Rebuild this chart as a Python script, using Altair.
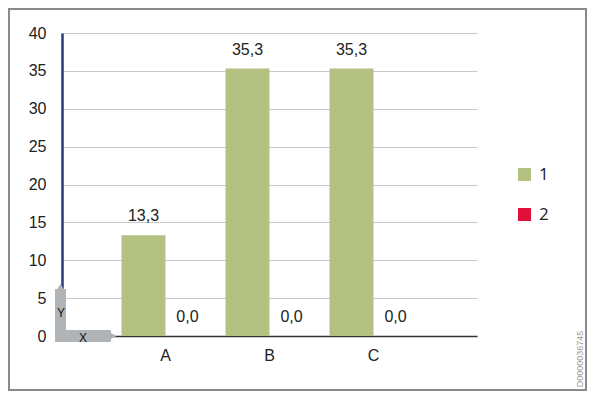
import altair as alt
import pandas as pd

categories = ["A", "B", "C"]
series_names = ["1", "2"]
series1 = [13.3, 35.3, 35.3]
series2 = [0.0, 0.0, 0.0]
y_ticks = [0, 5, 10, 15, 20, 25, 30, 35, 40]
watermark = "D0000036745"

rows = []
for c, v in zip(categories, series1):
    rows.append({"cat": c, "series": series_names[0], "v": v})
for c, v in zip(categories, series2):
    rows.append({"cat": c, "series": series_names[1], "v": v})
df = pd.DataFrame(rows)

W, H = 415, 303
PL, PT = 54, 25
TOTW, TOTH = 579, 383

xscale = alt.Scale(domain=categories, paddingInner=16 / 104, paddingOuter=0.572)
yscale = alt.Scale(domain=[0, 40], nice=False)
colors = alt.Scale(domain=series_names, range=["#b3c283", "#e0103a"])

xaxis = alt.Axis(title=None, labelAngle=0, labelFontSize=16, labelColor="#222",
                 labelPadding=11, ticks=False, domainColor="#333", domainWidth=1.5,
                 grid=False, labelFont="Liberation Sans", zindex=0)
yaxis = alt.Axis(title=None, values=y_ticks, tickCount=9, labelFontSize=16, labelColor="#222",
                 labelPadding=16, ticks=False, domainColor="#2b3a78", domainWidth=2.5,
                 labelOverlap=False, grid=True,
                 gridColor="#c8c8c8", gridWidth=1, labelFont="Liberation Sans", zindex=0)

base = alt.Chart(df)

bars = base.mark_bar(size=44).encode(
    x=alt.X("cat:N", scale=xscale, sort=categories, axis=xaxis),
    xOffset=alt.XOffset("series:N", sort=series_names, scale=alt.Scale(paddingInner=0, paddingOuter=0)),
    y=alt.Y("v:Q", scale=yscale, axis=yaxis),
    color=alt.Color("series:N", scale=colors, sort=series_names,
                    legend=alt.Legend(title=None, orient="none", legendX=454, legendY=133,
                                      symbolType="square", symbolSize=169, symbolStrokeWidth=0,
                                      labelFontSize=17, labelFont="Open Sans", labelColor="#222",
                                      rowPadding=22, symbolOffset=0, padding=0, labelOffset=6)),
)

labels = base.transform_calculate(
    lab="replace(format(datum.v, '.1f'), '.', ',')"
).mark_text(baseline="alphabetic", dy=-14, fontSize=16, font="Liberation Sans", color="#222").encode(
    x=alt.X("cat:N", scale=xscale, sort=categories, axis=xaxis),
    xOffset=alt.XOffset("series:N", sort=series_names),
    y=alt.Y("v:Q", scale=yscale, axis=yaxis),
    text="lab:N",
)

deco = pd.DataFrame({"k": [0]})
dbase = alt.Chart(deco)
icon_color = "#b1b4b7"
vert = dbase.mark_rect(color=icon_color).encode(
    x=alt.value(-7), x2=alt.value(4), y=alt.value(256), y2=alt.value(309))
horiz = dbase.mark_rect(color=icon_color).encode(
    x=alt.value(-7), x2=alt.value(49), y=alt.value(297), y2=alt.value(309))
tip_up = dbase.mark_point(shape="triangle-up", filled=True, color=icon_color, size=60, opacity=1).encode(
    x=alt.value(-1.5), y=alt.value(254))
tip_right = dbase.mark_point(shape="triangle-right", filled=True, color=icon_color, size=60, opacity=1).encode(
    x=alt.value(51), y=alt.value(303))
ylet = dbase.mark_text(text="Y", fontSize=12, font="Liberation Sans", color="#111").encode(
    x=alt.value(-1), y=alt.value(280))
xlet = dbase.mark_text(text="X", fontSize=12, font="Liberation Sans", color="#111").encode(
    x=alt.value(21), y=alt.value(305))
wm = dbase.mark_text(text=watermark, angle=270, fontSize=9, font="Liberation Sans", color="#999").encode(
    x=alt.value(518), y=alt.value(326))
frame = dbase.mark_rect(fill=None, stroke="#8a8a8a", strokeWidth=2).encode(
    x=alt.value(-PL + 1), x2=alt.value(TOTW - PL - 1),
    y=alt.value(-PT + 1), y2=alt.value(TOTH - PT - 1))

chart = alt.layer(bars, labels, vert, horiz, tip_up, tip_right, ylet, xlet, wm, frame).properties(
    width=W, height=H,
    background="white",
    autosize=alt.AutoSizeParams(type="none"),
    padding={"left": PL, "top": PT, "right": TOTW - PL - W, "bottom": TOTH - PT - H},
).configure_view(stroke="transparent", strokeWidth=0)

chart.save("out.html", embed_options={"renderer": "svg", "actions": False})
